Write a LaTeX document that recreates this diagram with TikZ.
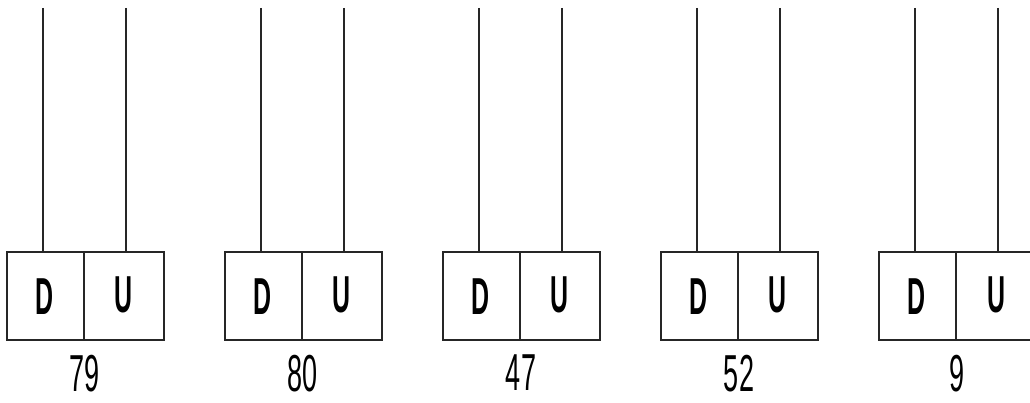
\documentclass[tikz,border=0pt]{standalone}
\usepackage{fontspec}
\setmainfont{Liberation Sans}
\usetikzlibrary{calc}
\begin{document}
\begin{tikzpicture}[x=1pt,y=-1pt,
  cell/.style={draw=black!85,line width=1.1pt,minimum height=88pt,inner sep=0pt,outer sep=0pt,anchor=north west},
  letter/.style={font=\fontsize{52}{52}\selectfont\bfseries,xscale=0.48,inner sep=0pt},
  lbl/.style={font=\fontsize{52}{52}\selectfont,inner sep=0pt,xscale=0.52,anchor=north},
  wire/.style={draw=black!85,line width=1.1pt}]
\useasboundingbox (0,0) rectangle (1030,403);
\clip (0,0) rectangle (1030,403);
\foreach \i/\n/\x in {1/79/7,2/80/225,3/47/443,4/52/661,5/9/879}{
  \path (\x,252) node[cell,minimum width=77pt] (d\i) {}
        (\x+77,252) node[cell,minimum width=80pt] (u\i) {};
  \node[letter] (dl\i) at ($(d\i.center)+(-1,1)$) {D};
  \node[letter] (ul\i) at ($(u\i.center)+(0,-1)$) {U};
  \coordinate (td\i) at (\x+36,8);
  \coordinate (tu\i) at (\x+119,8);
  \draw[wire] (td\i) -- (td\i |- d\i.north);
  \draw[wire] (tu\i) -- (tu\i |- u\i.north);
  \node[lbl] (n\i) at ($(d\i.south east)+(1,15)$) {\n};
}
\end{tikzpicture}
\end{document}
